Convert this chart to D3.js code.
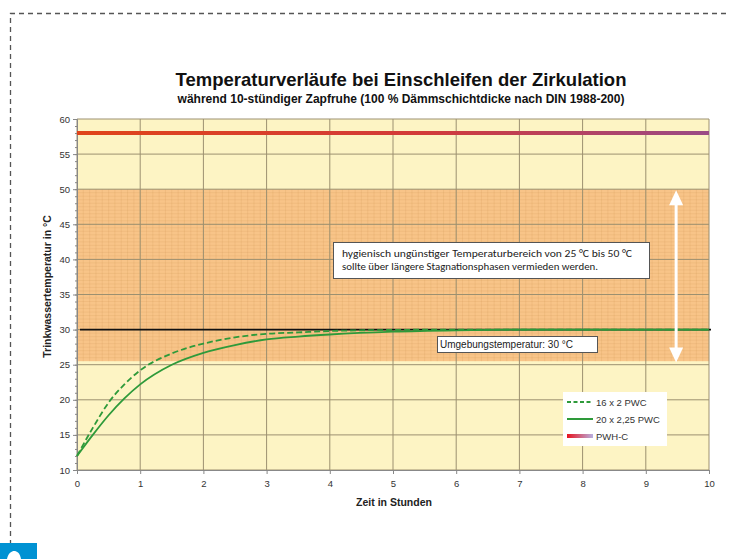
<!DOCTYPE html>
<html><head><meta charset="utf-8">
<script src="https://cdn.jsdelivr.net/npm/d3@7"></script>
<style>body{margin:0;background:#fff}svg{display:block}</style>
</head><body>
<script>
// ---- data ----
const hours = [0, 0.25, 0.5, 0.75, 1, 1.5, 2, 2.5, 3, 3.5, 4, 5, 6, 7, 8, 9, 10];
const pwc16 = [12, 16.0, 19.6, 22.2, 24.2, 26.6, 28.0, 28.9, 29.4, 29.6, 29.8, 29.95, 30, 30, 30, 30, 30];
const pwc20 = [12, 15.0, 17.8, 20.2, 22.2, 25.0, 26.7, 27.8, 28.6, 29.0, 29.3, 29.7, 29.9, 30, 30, 30, 30];
const pwhcHours = [0, 10];
const pwhc = [58, 58];
const ambient = 30;
const bandRange = [25.5, 50];
const xTicks = [0,1,2,3,4,5,6,7,8,9,10];
const yTicks = [10,15,20,25,30,35,40,45,50,55,60];
const seriesNames = ["16 x 2 PWC", "20 x 2,25 PWC", "PWH-C"];

const W = 730, H = 559;
const svg = d3.select("body").append("svg").attr("width", W).attr("height", H);
const font = "Arial, 'Liberation Sans', sans-serif";

// dashed frame
svg.append("path").attr("d", "M10.5,545 V13.5 H730")
  .attr("fill","none").attr("stroke","#555").attr("stroke-width",1.3).attr("stroke-dasharray","5,4");
// blue tag with partially visible white glyph
svg.append("rect").attr("x",0).attr("y",543).attr("width",37).attr("height",16).attr("fill","#0092d3");
svg.append("path").attr("d","M7,559 C8,553 12,551 14,551 C17,551 20,553 21,559 Z").attr("fill","#fff");

const x = d3.scaleLinear().domain([0,10]).range([77,709]);
const y = d3.scaleLinear().domain([10,60]).range([470,119]);

// backgrounds
svg.append("rect").attr("x",x(0)).attr("y",y(60)).attr("width",x(10)-x(0)).attr("height",y(10)-y(60)).attr("fill","#fdf4c4");
svg.append("rect").attr("x",x(0)).attr("y",y(bandRange[1])).attr("width",x(10)-x(0))
  .attr("height",y(bandRange[0])-y(bandRange[1])).attr("fill","#f8c488");

// minor grid (orange band only)
const minorG = svg.append("g").attr("stroke","#c08040").attr("stroke-opacity",0.22).attr("stroke-width",0.6);
d3.range(0,10.001,0.1).forEach(v=>minorG.append("line").attr("x1",x(v)).attr("x2",x(v)).attr("y1",y(bandRange[1])).attr("y2",y(bandRange[0])));
d3.range(26,50,0.5).forEach(v=>minorG.append("line").attr("x1",x(0)).attr("x2",x(10)).attr("y1",y(v)).attr("y2",y(v)));

// major grid
const gridG = svg.append("g").attr("stroke","#9c9070").attr("stroke-width",1);
xTicks.forEach(v=>gridG.append("line").attr("x1",x(v)).attr("x2",x(v)).attr("y1",y(60)).attr("y2",y(10)));
yTicks.forEach(v=>gridG.append("line").attr("x1",x(0)).attr("x2",x(10)).attr("y1",y(v)).attr("y2",y(v)));

// axes
const xAxis = d3.axisBottom(x).tickValues(xTicks).tickSize(4).tickFormat(d3.format("d"));
const yAxis = d3.axisLeft(y).tickValues(yTicks).tickSize(4).tickFormat(d3.format("d"));
const gx = svg.append("g").attr("transform",`translate(0,${y(10)})`).call(xAxis);
const gy = svg.append("g").attr("transform",`translate(${x(0)},0)`).call(yAxis);
const yMinor = d3.axisLeft(y).tickValues(d3.range(10,61,1)).tickSize(2).tickFormat("");
svg.append("g").attr("transform",`translate(${x(0)},0)`).call(yMinor).call(g=>g.select(".domain").remove())
  .selectAll("line").attr("stroke","#888");
[gx,gy].forEach(g=>{
  g.select(".domain").attr("stroke","#888");
  g.selectAll(".tick line").attr("stroke","#888");
  g.selectAll("text").attr("font-family",font).attr("font-size",9.5).attr("fill","#333");
});
gx.selectAll("text").attr("dy","1.1em");

// ambient line
svg.append("line").attr("x1",x(0)+3).attr("x2",x(10)+2).attr("y1",y(ambient)).attr("y2",y(ambient))
  .attr("stroke","#111").attr("stroke-width",1.8);

// PWH-C gradient line
const defs = svg.append("defs");
const grad = defs.append("linearGradient").attr("id","pwhGrad").attr("gradientUnits","userSpaceOnUse")
  .attr("x1",x(0)).attr("x2",x(10)).attr("y1",0).attr("y2",0);
grad.append("stop").attr("offset","0").attr("stop-color","#e0441a");
grad.append("stop").attr("offset","0.55").attr("stop-color","#d23a3a");
grad.append("stop").attr("offset","1").attr("stop-color","#9a4a86");
const lg = defs.append("linearGradient").attr("id","legGrad");
lg.append("stop").attr("offset","0").attr("stop-color","#e8141e");
lg.append("stop").attr("offset","1").attr("stop-color","#b8b0e0");

const line = d3.line().x(d=>x(d[0])).y(d=>y(d[1]));
svg.append("path").attr("d", line(pwhcHours.map((h,i)=>[h,pwhc[i]])))
  .attr("stroke","url(#pwhGrad)").attr("stroke-width",4).attr("fill","none");

const curve = d3.line().x(d=>x(d[0])).y(d=>y(d[1])).curve(d3.curveMonotoneX);
svg.append("path").attr("d", curve(hours.map((h,i)=>[h,pwc16[i]])))
  .attr("stroke","#2e9a3a").attr("stroke-width",1.8).attr("fill","none").attr("stroke-dasharray","6,3");
svg.append("path").attr("d", curve(hours.map((h,i)=>[h,pwc20[i]])))
  .attr("stroke","#2e9a3a").attr("stroke-width",1.8).attr("fill","none");

// white double arrow
const ax = x(9.48);
svg.append("line").attr("x1",ax).attr("x2",ax).attr("y1",y(50)+10).attr("y2",y(25.3)-10)
  .attr("stroke","#fff").attr("stroke-width",3);
svg.append("path").attr("d",`M${ax},${y(50)+1} L${ax-7},${y(50)+16} L${ax+7},${y(50)+16} Z`).attr("fill","#fff");
svg.append("path").attr("d",`M${ax},${y(25.3)} L${ax-7},${y(25.3)-15} L${ax+7},${y(25.3)-15} Z`).attr("fill","#fff");

// annotation box 1
const calib = "Carlito, Calibri, 'Open Sans', 'Liberation Sans', sans-serif";
svg.append("rect").attr("x",333.5).attr("y",242.5).attr("width",316).attr("height",36)
  .attr("fill","#fff").attr("stroke","#555").attr("stroke-width",1);
svg.append("text").attr("x",342).attr("y",257).attr("font-family",calib).attr("font-size",10.5).attr("fill","#222")
  .attr("textLength",290).attr("lengthAdjust","spacingAndGlyphs")
  .text("hygienisch ungünstiger Temperaturbereich von 25 °C bis 50 °C");
svg.append("text").attr("x",342).attr("y",270).attr("font-family",calib).attr("font-size",10.5).attr("fill","#222")
  .attr("textLength",256).attr("lengthAdjust","spacingAndGlyphs")
  .text("sollte über längere Stagnationsphasen vermieden werden.");
// annotation box 2
svg.append("rect").attr("x",437.5).attr("y",336.5).attr("width",160).attr("height",16)
  .attr("fill","#fff").attr("stroke","#555").attr("stroke-width",1);
svg.append("text").attr("x",440).attr("y",348).attr("font-family",font).attr("font-size",10).attr("fill","#222")
  .text("Umgebungstemperatur: 30 °C");

// legend
const leg = svg.append("g");
leg.append("rect").attr("x",563).attr("y",392).attr("width",104).attr("height",54).attr("fill","#fff");
const ly = [402, 419, 436];
leg.append("line").attr("x1",567).attr("x2",593).attr("y1",ly[0]).attr("y2",ly[0])
  .attr("stroke","#2e9a3a").attr("stroke-width",1.8).attr("stroke-dasharray","4,2.5");
leg.append("line").attr("x1",567).attr("x2",593).attr("y1",ly[1]).attr("y2",ly[1])
  .attr("stroke","#2e9a3a").attr("stroke-width",2);
leg.append("rect").attr("x",567).attr("y",ly[2]-2).attr("width",26).attr("height",4).attr("fill","url(#legGrad)");
seriesNames.forEach((n,i)=>leg.append("text").attr("x",596).attr("y",ly[i]+3.5)
  .attr("font-family",font).attr("font-size",9.5).attr("fill","#333").text(n));

// titles
svg.append("text").attr("x",401).attr("y",86).attr("text-anchor","middle").attr("font-family",font)
  .attr("font-weight","bold").attr("font-size",18.5).attr("fill","#111")
  .text("Temperaturverläufe bei Einschleifen der Zirkulation");
svg.append("text").attr("x",401).attr("y",103).attr("text-anchor","middle").attr("font-family",font)
  .attr("font-weight","bold").attr("font-size",12).attr("fill","#111")
  .text("während 10-stündiger Zapfruhe  (100 % Dämmschichtdicke nach DIN 1988-200)");
svg.append("text").attr("x",394).attr("y",506).attr("text-anchor","middle").attr("font-family",font)
  .attr("font-weight","bold").attr("font-size",10.5).attr("fill","#222").text("Zeit in Stunden");
svg.append("text").attr("transform",`translate(51,${(y(10)+y(60))/2-8}) rotate(-90)`).attr("text-anchor","middle")
  .attr("font-family",font).attr("font-weight","bold").attr("font-size",10.5).attr("fill","#222")
  .text("Trinkwassertemperatur in °C");
</script>
</body></html>
